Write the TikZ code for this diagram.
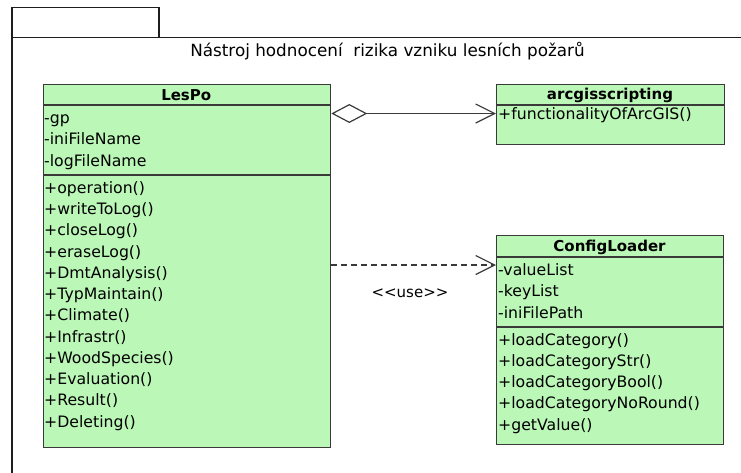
\documentclass[tikz,border=0pt]{standalone}
\usepackage{fontspec}
\setmainfont{DejaVu Sans}
\usetikzlibrary{arrows.meta}
\definecolor{classfill}{RGB}{187,247,183}
\definecolor{edgegray}{RGB}{58,58,58}
\definecolor{framegray}{RGB}{30,30,30}
\tikzset{
  classbox/.style={draw=edgegray, line width=1.3pt, fill=classfill, inner sep=0pt, anchor=north west},
  compline/.style={draw=edgegray, line width=1.3pt},
  member/.style={anchor=mid west, inner sep=0pt, font=\fontsize{15.7}{18}\selectfont},
  classname/.style={inner sep=0pt, font=\fontsize{15}{18}\selectfont\bfseries},
  framestyle/.style={draw=framegray, line width=1.3pt},
  link/.style={draw=edgegray, line width=1.2pt},
  aggregation/.style={link, {Diamond[open, length=36pt, width=19pt, line width=1.2pt]}-{Straight Barb[length=19pt, width=19pt, line width=1.2pt]}},
  dependency/.style={link, dash pattern=on 6pt off 4pt, -{Straight Barb[length=19pt, width=19pt, line width=1.2pt]}},
}
\begin{document}
\begin{tikzpicture}[x=1pt, y=-1pt]
  \useasboundingbox (0,0) rectangle (741,472);
  \clip (0,0) rectangle (741,472);

  % package frame with its tab
  \draw[framestyle] (12,480) -- (12,37.7) -- (760,37.7);
  \draw[framestyle] (12,37.7) rectangle (159,7.7);
  \node[inner sep=0pt, font=\fontsize{16.8}{18}\selectfont] (pkgtitle) at (387.5,51)
    {Nástroj hodnocení~ rizika vzniku lesních požarů};

  % class LesPo
  \node[classbox, minimum width=287.5pt, minimum height=363pt] (lespo) at (42.5,84) {};
  \draw[compline] (42.5,105) -- (330,105);
  \draw[compline] (42.5,175) -- (330,175);
  \node[classname] (lespo-name) at (186.25,95) {LesPo};
  \foreach \t [count=\i from 0] in {{-gp},{-iniFileName},{-logFileName}}
    \node[member] (lespo-a\i) at (44, 120.5+21.5*\i) {\t};
  \foreach \t [count=\i from 0] in {{+operation()},{+writeToLog()},{+closeLog()},{+eraseLog()},
      {+DmtAnalysis()},{+TypMaintain()},{+Climate()},{+Infrastr()},{+WoodSpecies()},
      {+Evaluation()},{+Result()},{+Deleting()}}
    \node[member] (lespo-m\i) at (44, 190.5+21.27*\i) {\t};

  % class arcgisscripting
  \node[classbox, minimum width=228pt, minimum height=60pt] (arcgis) at (496,84) {};
  \draw[compline] (496,105) -- (724,105);
  \node[classname] (arcgis-name) at (610,95) {arcgisscripting};
  \node[member] (arcgis-m0) at (498,117) {+functionalityOfArcGIS()};

  % class ConfigLoader
  \node[classbox, minimum width=227pt, minimum height=209pt] (config) at (496,235) {};
  \draw[compline] (496,257) -- (723,257);
  \draw[compline] (496,327) -- (723,327);
  \node[classname] (config-name) at (609.5,247) {ConfigLoader};
  \foreach \t [count=\i from 0] in {{-valueList},{-keyList},{-iniFilePath}}
    \node[member] (config-a\i) at (498, 272.5+21.5*\i) {\t};
  \foreach \t [count=\i from 0] in {{+loadCategory()},{+loadCategoryStr()},{+loadCategoryBool()},
      {+loadCategoryNoRound()},{+getValue()}}
    \node[member] (config-m\i) at (498, 342.5+21.25*\i) {\t};

  % relations
  \coordinate (agg-start) at (lespo.east |- 0,113.5);
  \coordinate (agg-end) at (arcgis.west |- 0,113.5);
  \draw[aggregation] (agg-start) -- (agg-end);
  \coordinate (use-start) at (lespo.east |- 0,265);
  \coordinate (use-end) at (config.west |- 0,265);
  \draw[dependency] (use-start) -- (use-end);
  \node[inner sep=0pt, font=\fontsize{15}{18}\selectfont] (use-label) at (410,293) {{<}{<}use{>}{>}};
\end{tikzpicture}
\end{document}
